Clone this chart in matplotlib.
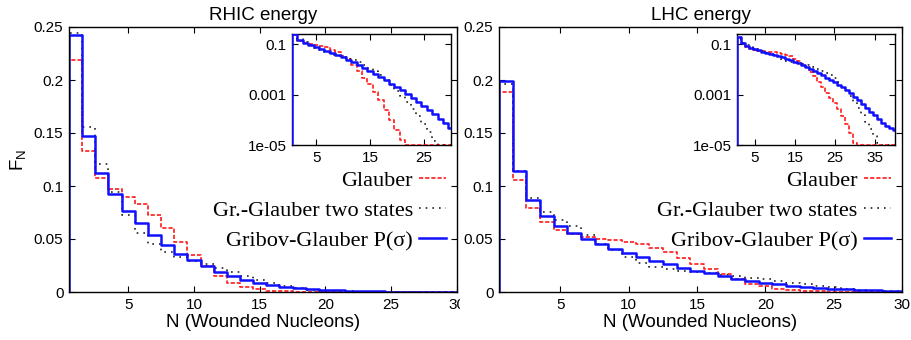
import numpy as np
import matplotlib
matplotlib.use('Agg')
import matplotlib.pyplot as plt
from matplotlib.ticker import NullLocator
from matplotlib.transforms import Bbox, TransformedBbox

plt.rcParams['font.family'] = ['Liberation Sans', 'DejaVu Sans']
plt.rcParams['mathtext.default'] = 'regular'

# numero de nucleones heridos (centro de cada bin)
n_rhic = np.arange(1, 31)
n_lhc = np.arange(1, 41)

# RHIC
glauber_rhic = [0.219, 0.133, 0.108, 0.097, 0.090, 0.083, 0.073, 0.060, 0.0475, 0.0346,
                0.0245, 0.0148, 0.0084, 0.0045, 0.0025, 0.00125, 0.00058, 0.00024, 0.0001, 0.00004,
                0.000016, 0, 0, 0, 0, 0, 0, 0, 0, 0]
two_states_rhic = [0.244, 0.1552, 0.1203, 0.094, 0.0724, 0.056, 0.045, 0.0375, 0.0334, 0.0293,
                   0.0261, 0.023, 0.0192, 0.0151, 0.0113, 0.0082, 0.0057, 0.0037, 0.0023, 0.0014,
                   0.00085, 0.0005, 0.00027, 0.00014, 0.00007, 0.000033, 0.000014, 0, 0, 0]
gribov_rhic = [0.2424, 0.1474, 0.1127, 0.0923, 0.0768, 0.0649, 0.0542, 0.0444, 0.0360, 0.0298,
               0.0242, 0.0192, 0.0151, 0.0117, 0.0086, 0.0064, 0.0048, 0.0036, 0.0027, 0.0020,
               0.00145, 0.00103, 0.00072, 0.00050, 0.00035, 0.00024, 0.000165, 0.000112, 0.000075, 0.000049]

# LHC
glauber_lhc = [0.1883, 0.1058, 0.079, 0.0658, 0.0586, 0.0545, 0.0516, 0.0504, 0.0491, 0.0475,
               0.0453, 0.0419, 0.0375, 0.0324, 0.0261, 0.0214, 0.0167, 0.012, 0.0078, 0.0055,
               0.0031, 0.0019, 0.0012, 0.00075, 0.00045, 0.00026, 0.00014, 0.00007, 0.00003, 0.000012,
               0, 0, 0, 0, 0, 0, 0, 0, 0, 0]
two_states_lhc = [0.196, 0.114, 0.0885, 0.0759, 0.068, 0.062, 0.0535, 0.0455, 0.0393, 0.0328,
                  0.0271, 0.0239, 0.0214, 0.0198, 0.0189, 0.0176, 0.0164, 0.0151, 0.0135, 0.012,
                  0.0104, 0.0088, 0.0072, 0.0057, 0.0044, 0.0032, 0.0022, 0.0014, 0.00085, 0.0005,
                  0.00028, 0.00015, 0.00008, 0.000042, 0.000022, 0.000012, 0, 0, 0, 0]
gribov_lhc = [0.199, 0.1146, 0.0869, 0.0718, 0.0623, 0.056, 0.0504, 0.0453, 0.0409, 0.0365,
              0.0327, 0.0293, 0.0261, 0.023, 0.0202, 0.0176, 0.0151, 0.0126, 0.0107, 0.0088,
              0.0072, 0.006, 0.0047, 0.0038, 0.0031, 0.00245, 0.00195, 0.00148, 0.0011, 0.00081,
              0.00059, 0.00043, 0.0003, 0.00021, 0.000148, 0.000105, 0.000075, 0.000058, 0.000047, 0.00004]

etiquetas = ['Glauber', 'Gr.-Glauber two states', 'Gribov-Glauber P(σ)']
y_ticks = [0, 0.05, 0.1, 0.15, 0.2, 0.25]
y_tick_labels = ['0', '0.05', '0.1', '0.15', '0.2', '0.25']
x_ticks = [5, 10, 15, 20, 25, 30]
log_ticks = [1e-5, 1e-3, 1e-1]
log_tick_labels = ['1e-05', '0.001', '0.1']

estilos = [dict(color='#ff1a1a', ls=(0, (2.5, 1.2)), lw=1.2),
           dict(color='#222222', ls=(0, (1, 3)), lw=1.2),
           dict(color='#1010ff', ls='-', lw=1.8)]


def escalones(n, valores, piso):
    # histograma: bordes en N +- 0.5, con la linea vertical inicial
    bordes = np.append(n - 0.5, n[-1] + 0.5)
    y = np.maximum(np.asarray(valores, dtype=float), piso)
    x = np.concatenate([[bordes[0]], bordes])
    y = np.concatenate([[piso], y, [y[-1]]])
    return x, y


def formato(ax):
    ax.tick_params(direction='in', top=True, right=True, length=4, width=0.8,
                   labelsize=11, pad=4)
    for s in ax.spines.values():
        s.set_linewidth(1.0)


def graficar(fig, pos, pos_in, n, series, titulo, xticks_in, xlim_in, ylabel):
    ax = fig.add_axes(pos)
    for valores, etiqueta, estilo in zip(series, etiquetas, estilos):
        x, y = escalones(n, valores, 0)
        ax.step(x, y, where='post', label=etiqueta, **estilo)
    ax.set_xlim(0.5, 30)
    ax.set_ylim(0, 0.25)
    ax.set_xticks(x_ticks)
    ax.set_yticks(y_ticks, labels=y_tick_labels)
    formato(ax)
    ax.set_title(titulo, fontsize=13.5, pad=5)
    ax.set_xlabel('N (Wounded Nucleons)', fontsize=13.5, labelpad=2)
    if ylabel:
        ax.set_ylabel('F$_N$', fontsize=13.5, labelpad=4)
    ax.legend(loc='upper right', bbox_to_anchor=(0.972, 0.459), frameon=False,
              markerfirst=False, prop={'family': 'Liberation Serif', 'size': 16},
              handlelength=1.2, handletextpad=0.3, labelspacing=0.43,
              borderpad=0, borderaxespad=0)

    axin = fig.add_axes(pos_in)
    for valores, estilo in zip(series, estilos):
        x, y = escalones(n, valores, 1e-5)
        axin.step(x, y, where='post', zorder=3, **estilo)
    axin.set_yscale('log')
    axin.set_ylim(1e-5, 0.25)
    axin.set_xlim(*xlim_in)
    axin.set_yticks(log_ticks, labels=log_tick_labels)
    axin.yaxis.set_minor_locator(NullLocator())
    axin.set_xticks(xticks_in)
    formato(axin)
    return ax, axin


fig = plt.figure(figsize=(9.11, 3.40), dpi=100)

ax1, _ = graficar(fig, [69 / 911, 48 / 340, 388 / 911, 265 / 340],
                  [292 / 911, 195 / 340, 159 / 911, 111 / 340],
                  n_rhic, [glauber_rhic, two_states_rhic, gribov_rhic],
                  'RHIC energy', [5, 15, 25], (0.5, 30), True)
graficar(fig, [499 / 911, 48 / 340, 403 / 911, 265 / 340],
         [737 / 911, 195 / 340, 158 / 911, 111 / 340],
         n_lhc, [glauber_lhc, two_states_lhc, gribov_lhc],
         'LHC energy', [5, 15, 25, 35], (0.5, 40), False)

# el "30" del panel izquierdo queda cortado por el panel derecho
corte = TransformedBbox(Bbox([[0, 0], [460 / 911, 1]]), fig.transFigure)
ultimo = ax1.xaxis.get_major_ticks()[-1].label1
ultimo.set_clip_box(corte)
ultimo.set_clip_on(True)

fig.savefig('out.png', dpi=100)
